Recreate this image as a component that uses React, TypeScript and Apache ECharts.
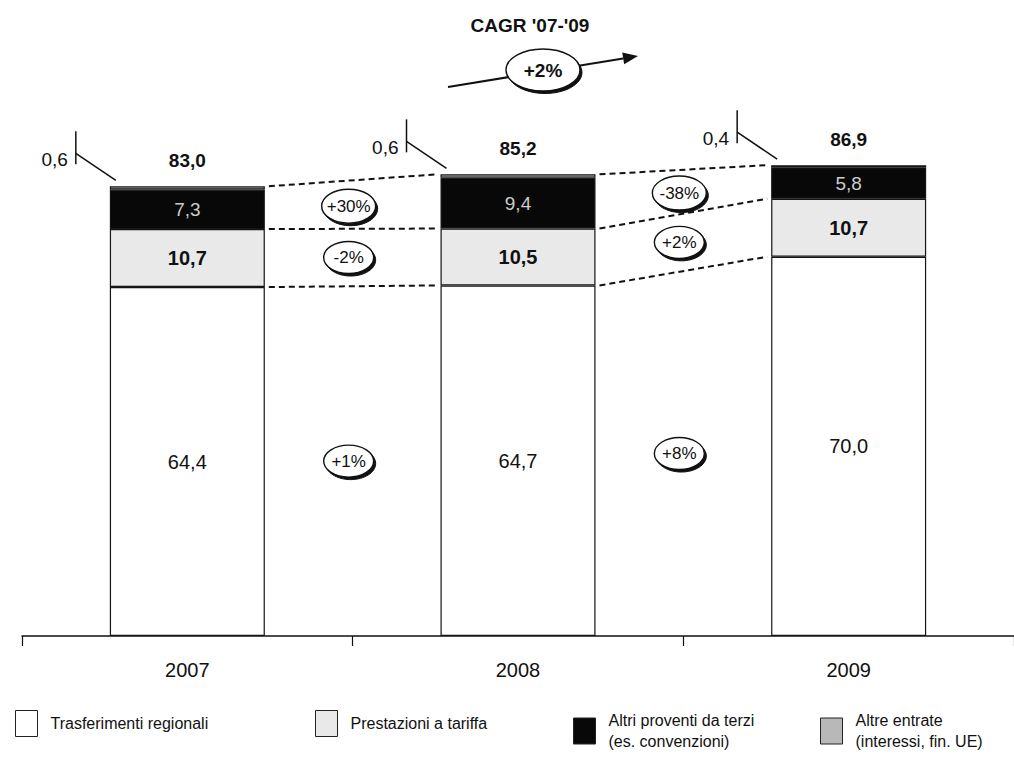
import React, { useEffect, useRef } from "react";
import * as echarts from "echarts";

const categories = ["2007", "2008", "2009"];
const trasferimenti = [64.4, 64.7, 70.0];
const prestazioni = [10.7, 10.5, 10.7];
const altriProventi = [7.3, 9.4, 5.8];
const altreEntrate = [0.6, 0.6, 0.4];
const totals = [83.0, 85.2, 86.9];
const growthTrasf = ["+1%", "+8%"];
const growthPrest = ["-2%", "+2%"];
const growthAltri = ["+30%", "-38%"];
const cagrLabel = "+2%";
const cagrTitle = "CAGR '07-'09";

const FONT = "'Liberation Sans', Arial, sans-serif";
const NARROW = "'Liberation Sans Narrow', 'Liberation Sans', Arial, sans-serif";
const BAR_W = 155;

const fmt = (v: number) => v.toFixed(1).replace(".", ",");

function ellipse(cx: number, cy: number, rx: number, ry: number, text: string, fontSize: number, bold: boolean) {
  return [
    { type: "ellipse", shape: { cx: cx + 2, cy: cy + 2.5, rx, ry }, style: { fill: "#111", stroke: "#111", lineWidth: 1 }, z: 100 },
    { type: "ellipse", shape: { cx, cy, rx, ry }, style: { fill: "#fff", stroke: "#111", lineWidth: 1.4 }, z: 101 },
    {
      type: "text", x: cx, y: cy, z: 102,
      style: { text, fill: "#111", font: `${bold ? "bold " : ""}${fontSize}px ${FONT}`, textAlign: "center", textVerticalAlign: "middle" },
    },
  ];
}

export default function App() {
  const ref = useRef<HTMLDivElement>(null);
  useEffect(() => {
    document.body.style.margin = "0";
    const chart = echarts.init(ref.current!, null, { renderer: "svg" });
    const border = { borderColor: "#151515", borderWidth: 1.2 };
    const option: any = {
      animation: false,
      backgroundColor: "#fff",
      grid: { left: 22, width: 1000, top: 105, bottom: 125 },
      xAxis: {
        type: "category",
        data: categories,
        axisLine: { lineStyle: { color: "#111", width: 1.5 } },
        axisTick: { show: true, length: 10, lineStyle: { color: "#111", width: 1.2 } },
        axisLabel: { fontSize: 20, color: "#111", margin: 24, fontFamily: FONT },
      },
      yAxis: { type: "value", min: 0, max: 98, show: false, splitLine: { show: false } },
      legend: [
        { name: "Trasferimenti regionali", left: 10, text: "Trasferimenti regionali" },
        { name: "Prestazioni a tariffa", left: 310, text: "Prestazioni a tariffa" },
        { name: "Altri proventi da terzi", left: 568, text: "Altri proventi da terzi\n(es. convenzioni)" },
        { name: "Altre entrate", left: 815, text: "Altre entrate\n(interessi, fin. UE)" },
      ].map((l) => ({
        data: [{ name: l.name, itemStyle: { borderColor: "#222", borderWidth: 1 } }],
        left: l.left,
        top: 705,
        itemWidth: 22,
        itemHeight: 26,
        itemGap: 14,
        icon: "rect",
        selectedMode: false,
        formatter: () => l.text,
        textStyle: { fontSize: 16, color: "#111", fontFamily: NARROW, lineHeight: 21, padding: [0, 0, 0, 8] },
      })),
      series: [
        {
          name: "Trasferimenti regionali", type: "bar", stack: "a", barWidth: BAR_W, data: trasferimenti,
          itemStyle: { color: "#ffffff", ...border },
          label: { show: true, position: "inside", fontSize: 20, color: "#111", fontFamily: FONT, formatter: (p: any) => fmt(p.value) },
        },
        {
          name: "Prestazioni a tariffa", type: "bar", stack: "a", barWidth: BAR_W, data: prestazioni,
          itemStyle: { color: "#e9e9e9", ...border },
          label: { show: true, position: "inside", fontSize: 20, fontWeight: "bold", color: "#111", fontFamily: FONT, formatter: (p: any) => fmt(p.value) },
        },
        {
          name: "Altri proventi da terzi", type: "bar", stack: "a", barWidth: BAR_W, data: altriProventi,
          itemStyle: { color: "#080808", ...border },
          label: { show: true, position: "inside", fontSize: 19, color: "#cccccc", fontFamily: FONT, formatter: (p: any) => fmt(p.value) },
        },
        {
          name: "Altre entrate", type: "bar", stack: "a", barWidth: BAR_W, data: altreEntrate,
          itemStyle: { color: "#b8b8b8", ...border },
          label: {
            show: true, position: "top", distance: 16, fontSize: 19, fontWeight: "bold", color: "#111", fontFamily: FONT,
            formatter: (p: any) => fmt(totals[p.dataIndex]),
          },
        },
      ],
    };
    chart.setOption(option);

    const px = (i: number, v: number) => chart.convertToPixel({ gridIndex: 0 }, [i, v]) as number[];
    const g: any[] = [];
    g.push({
      type: "text", x: 530, y: 25, z: 100,
      style: { text: cagrTitle, fill: "#111", font: `bold 19px ${FONT}`, textAlign: "center", textVerticalAlign: "middle" },
    });
    const E = [638, 56];
    const S = [448, 87];
    const dx = E[0] - S[0], dy = E[1] - S[1];
    const len = Math.hypot(dx, dy);
    const d = [dx / len, dy / len];
    const n = [-d[1], d[0]];
    const B = [E[0] - 15 * d[0], E[1] - 15 * d[1]];
    g.push({ type: "line", shape: { x1: S[0], y1: S[1], x2: B[0], y2: B[1] }, style: { stroke: "#111", lineWidth: 2 }, z: 99 });
    g.push({
      type: "polygon", z: 99,
      shape: { points: [E, [B[0] + 6 * n[0], B[1] + 6 * n[1]], [B[0] - 6 * n[0], B[1] - 6 * n[1]]] },
      style: { fill: "#111" },
    });
    g.push(...ellipse(543, 70, 37, 21, cagrLabel, 19, true));

    categories.forEach((_, i) => {
      const [x, top] = px(i, totals[i]);
      const left = x - BAR_W / 2;
      g.push({
        type: "text", x: left - 42, y: top - 27, z: 100,
        style: { text: fmt(altreEntrate[i]), fill: "#111", font: `19px ${FONT}`, textAlign: "right", textVerticalAlign: "middle" },
      });
      g.push({ type: "line", z: 100, shape: { x1: left - 34, y1: top - 55, x2: left - 34, y2: top - 22 }, style: { stroke: "#111", lineWidth: 1.5 } });
      g.push({ type: "line", z: 100, shape: { x1: left - 34, y1: top - 33, x2: left + 6, y2: top - 6 }, style: { stroke: "#111", lineWidth: 1.5 } });
    });

    for (let i = 0; i < categories.length - 1; i++) {
      const levels = [trasferimenti[i], trasferimenti[i] + prestazioni[i], totals[i]];
      const levels2 = [trasferimenti[i + 1], trasferimenti[i + 1] + prestazioni[i + 1], totals[i + 1]];
      levels.forEach((v, k) => {
        const [x1, y1] = px(i, v);
        const [x2, y2] = px(i + 1, levels2[k]);
        g.push({
          type: "line", z: 90,
          shape: { x1: x1 + BAR_W / 2 + 4, y1, x2: x2 - BAR_W / 2 - 4, y2 },
          style: { stroke: "#111", lineWidth: 2, lineDash: [6, 4] },
        });
      });
      const mids = (a: number[], b: number[]) => {
        const ya = (px(i, a[0])[1] + px(i, a[1])[1]) / 2;
        const yb = (px(i + 1, b[0])[1] + px(i + 1, b[1])[1]) / 2;
        return (ya + yb) / 2;
      };
      const cx = (px(i, 0)[0] + px(i + 1, 0)[0]) / 2 - 4;
      const yT = mids([0, trasferimenti[i]], [0, trasferimenti[i + 1]]);
      const yP = mids([trasferimenti[i], levels[1]], [trasferimenti[i + 1], levels2[1]]);
      const yA = mids([levels[1], levels[1] + altriProventi[i]], [levels2[1], levels2[1] + altriProventi[i + 1]]);
      g.push(...ellipse(cx, yA, 27, 17, growthAltri[i], 17, false));
      g.push(...ellipse(cx, yP, 25, 16, growthPrest[i], 17, false));
      g.push(...ellipse(cx, yT, 25, 16, growthTrasf[i], 17, false));
    }
    chart.setOption({ graphic: g });
    return () => chart.dispose();
  }, []);
  return <div ref={ref} style={{ width: 1014, height: 761 }} />;
}
